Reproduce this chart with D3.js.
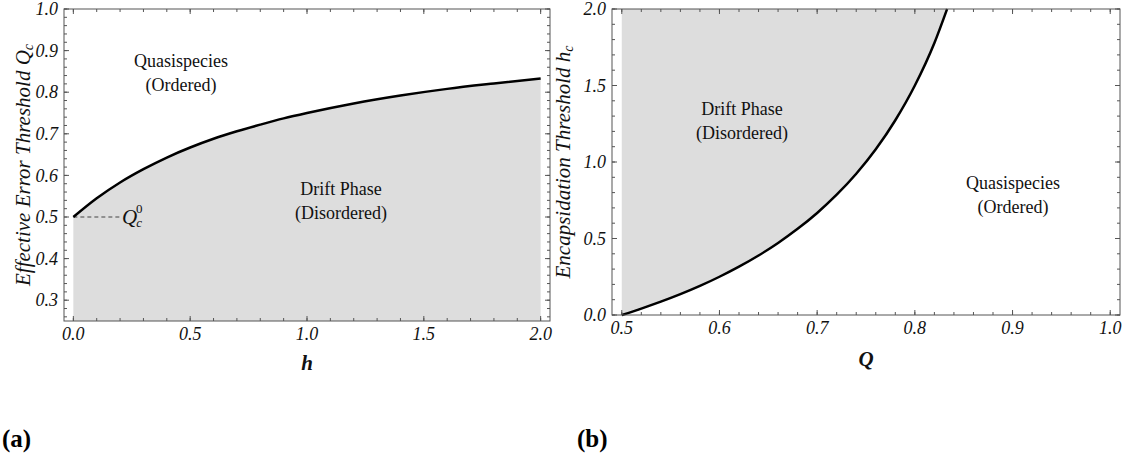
<!DOCTYPE html>
<html>
<head>
<meta charset="utf-8">
<script src="https://cdn.jsdelivr.net/npm/d3@7"></script>
<style>
  html, body { margin: 0; padding: 0; background: #fff; }
  svg { display: block; }
</style>
</head>
<body>
<svg id="fig" width="1131" height="458" font-family="'Liberation Serif', 'Times New Roman', serif"></svg>
<script>
// Panel (a): effective error threshold Q_c versus encapsidation strength h
const hValues  = [0, 0.1, 0.2, 0.3, 0.4, 0.5, 0.6, 0.7, 0.8, 0.9, 1.0, 1.2, 1.4, 1.6, 1.8, 2.0];
const qcValues = [0.500, 0.545, 0.583, 0.615, 0.643, 0.667, 0.688, 0.706, 0.722, 0.737, 0.750, 0.773, 0.792, 0.808, 0.821, 0.833];
const qcZero = 0.5;
const xTicksA = [0, 0.5, 1.0, 1.5, 2.0];
const yTicksA = [0.3, 0.4, 0.5, 0.6, 0.7, 0.8, 0.9, 1.0];

// Panel (b): encapsidation threshold h_c versus copying fidelity Q
const qValues  = [0.50, 0.52, 0.54, 0.56, 0.58, 0.60, 0.62, 0.64, 0.66, 0.68, 0.70, 0.72, 0.74, 0.76, 0.78, 0.80, 0.82, 0.833];
const hcValues = [0.000, 0.042, 0.087, 0.136, 0.190, 0.250, 0.316, 0.389, 0.471, 0.563, 0.667, 0.786, 0.923, 1.083, 1.273, 1.500, 1.778, 2.000];
const xTicksB = [0.5, 0.6, 0.7, 0.8, 0.9, 1.0];
const yTicksB = [0.0, 0.5, 1.0, 1.5, 2.0];

const svg = d3.select("#fig");
const FRAME = "#555";
const FILL = "#dddddd";
const INK = "#111";
const fmt = d3.format(".1f");

// Mathematica-style frame: ticks on all four sides, pointing inward
function frame(g, x, y, xMajor, xMinor, yMajor, yMinor) {
  const [x0, x1] = x.range();
  const [yb, yt] = y.range();
  const maj = 5, min = 3;
  const t = g.append("g").attr("stroke", FRAME).attr("stroke-width", 1);
  xMinor.forEach(v => {
    const px = x(v);
    t.append("line").attr("x1", px).attr("x2", px).attr("y1", yb).attr("y2", yb - min);
    t.append("line").attr("x1", px).attr("x2", px).attr("y1", yt).attr("y2", yt + min);
  });
  xMajor.forEach(v => {
    const px = x(v);
    t.append("line").attr("x1", px).attr("x2", px).attr("y1", yb).attr("y2", yb - maj);
    t.append("line").attr("x1", px).attr("x2", px).attr("y1", yt).attr("y2", yt + maj);
  });
  yMinor.forEach(v => {
    const py = y(v);
    t.append("line").attr("x1", x0).attr("x2", x0 + min).attr("y1", py).attr("y2", py);
    t.append("line").attr("x1", x1).attr("x2", x1 - min).attr("y1", py).attr("y2", py);
  });
  yMajor.forEach(v => {
    const py = y(v);
    t.append("line").attr("x1", x0).attr("x2", x0 + maj).attr("y1", py).attr("y2", py);
    t.append("line").attr("x1", x1).attr("x2", x1 - maj).attr("y1", py).attr("y2", py);
  });
  g.append("rect")
    .attr("x", x0).attr("y", yt).attr("width", x1 - x0).attr("height", yb - yt)
    .attr("fill", "none").attr("stroke", FRAME).attr("stroke-width", 1);

  g.selectAll(".xl").data(xMajor).enter().append("text")
    .attr("x", d => x(d)).attr("y", yb + 19)
    .attr("fill", INK)
    .attr("text-anchor", "middle").attr("font-style", "italic").attr("font-size", 18)
    .text(fmt);
  g.selectAll(".yl").data(yMajor).enter().append("text")
    .attr("x", x0 - 6).attr("y", d => y(d)).attr("dy", "0.34em")
    .attr("fill", INK)
    .attr("text-anchor", "end").attr("font-style", "italic").attr("font-size", 18)
    .text(fmt);
}

function range(a, b, step) {
  const out = [];
  for (let v = a; v <= b + 1e-9; v += step) out.push(+v.toFixed(4));
  return out;
}

function twoLine(g, cx, y, l1, l2) {
  const t = g.append("text").attr("text-anchor", "middle").attr("font-size", 18).attr("fill", INK);
  t.append("tspan").attr("x", cx).attr("y", y).text(l1);
  t.append("tspan").attr("x", cx).attr("y", y + 24).text(l2);
}

// ---------- panel (a) ----------
{
  const g = svg.append("g");
  const x = d3.scaleLinear().domain([-0.04, 2.04]).range([64, 550]);
  const y = d3.scaleLinear().domain([0.25, 1.0]).range([321, 9]);
  const pts = hValues.map((h, i) => [h, qcValues[i]]);

  g.append("path").datum(pts)
    .attr("fill", FILL)
    .attr("d", d3.area().x(d => x(d[0])).y0(y(0.25)).y1(d => y(d[1])).curve(d3.curveMonotoneX));

  g.append("line")
    .attr("x1", x(0)).attr("x2", x(0.2)).attr("y1", y(qcZero)).attr("y2", y(qcZero))
    .attr("stroke", "#777").attr("stroke-width", 1.3).attr("stroke-dasharray", "4,3");

  g.append("path").datum(pts)
    .attr("fill", "none").attr("stroke", "#000").attr("stroke-width", 2.5)
    .attr("d", d3.line().x(d => x(d[0])).y(d => y(d[1])).curve(d3.curveMonotoneX));

  frame(g, x, y, xTicksA, range(0, 2, 0.1), yTicksA, range(0.26, 1.0, 0.02));

  // Q_c^0 marker label at the end of the dashed line
  const q0 = g.append("text").attr("x", x(0.2) + 2).attr("y", y(qcZero) + 7)
    .attr("fill", INK).attr("font-style", "italic").attr("font-size", 21);
  q0.append("tspan").text("Q");
  q0.append("tspan").attr("font-size", 13).attr("dx", -1).attr("dy", 3).text("c");
  q0.append("tspan").attr("font-size", 13).attr("font-style", "normal").attr("dx", -6).attr("dy", -14).text("0");

  twoLine(g, 181, 67, "Quasispecies", "(Ordered)");
  twoLine(g, 341, 195, "Drift Phase", "(Disordered)");

  const yt = g.append("text")
    .attr("transform", `translate(30,${(9 + 321) / 2}) rotate(-90)`)
    .attr("fill", INK)
    .attr("text-anchor", "middle").attr("font-style", "italic").attr("font-size", 21);
  yt.append("tspan").text("Effective Error Threshold Q");
  yt.append("tspan").attr("font-size", 14).attr("dy", 3).text("c");

  g.append("text").attr("x", (64 + 550) / 2).attr("y", 370)
    .attr("fill", INK)
    .attr("text-anchor", "middle").attr("font-style", "italic").attr("font-weight", "bold")
    .attr("font-size", 21).text("h");

  g.append("text").attr("x", 2).attr("y", 447)
    .attr("fill", "#000")
    .attr("font-weight", "bold").attr("font-size", 25).text("(a)");
}

// ---------- panel (b) ----------
{
  const g = svg.append("g");
  const x = d3.scaleLinear().domain([0.49, 1.01]).range([612, 1120]);
  const y = d3.scaleLinear().domain([0, 2]).range([315, 9]);
  const pts = qValues.map((q, i) => [q, hcValues[i]]);

  g.append("path").datum(pts)
    .attr("fill", FILL)
    .attr("d", d3.area().y(d => y(d[1])).x0(x(0.5)).x1(d => x(d[0])).curve(d3.curveMonotoneY));

  g.append("path").datum(pts)
    .attr("fill", "none").attr("stroke", "#000").attr("stroke-width", 2.5)
    .attr("d", d3.line().x(d => x(d[0])).y(d => y(d[1])).curve(d3.curveMonotoneX));

  frame(g, x, y, xTicksB, range(0.5, 1.0, 0.02), yTicksB, range(0, 2, 0.1));

  twoLine(g, 742, 115, "Drift Phase", "(Disordered)");
  twoLine(g, 1013, 189, "Quasispecies", "(Ordered)");

  const yt = g.append("text")
    .attr("transform", `translate(570,${(9 + 315) / 2}) rotate(-90)`)
    .attr("fill", INK)
    .attr("text-anchor", "middle").attr("font-style", "italic").attr("font-size", 21);
  yt.append("tspan").text("Encapsidation Threshold h");
  yt.append("tspan").attr("font-size", 14).attr("dy", 3).text("c");

  g.append("text").attr("x", (612 + 1120) / 2).attr("y", 366)
    .attr("fill", INK)
    .attr("text-anchor", "middle").attr("font-style", "italic").attr("font-weight", "bold")
    .attr("font-size", 21).text("Q");

  g.append("text").attr("x", 577).attr("y", 447)
    .attr("fill", "#000")
    .attr("font-weight", "bold").attr("font-size", 25).text("(b)");
}
</script>
</body>
</html>
